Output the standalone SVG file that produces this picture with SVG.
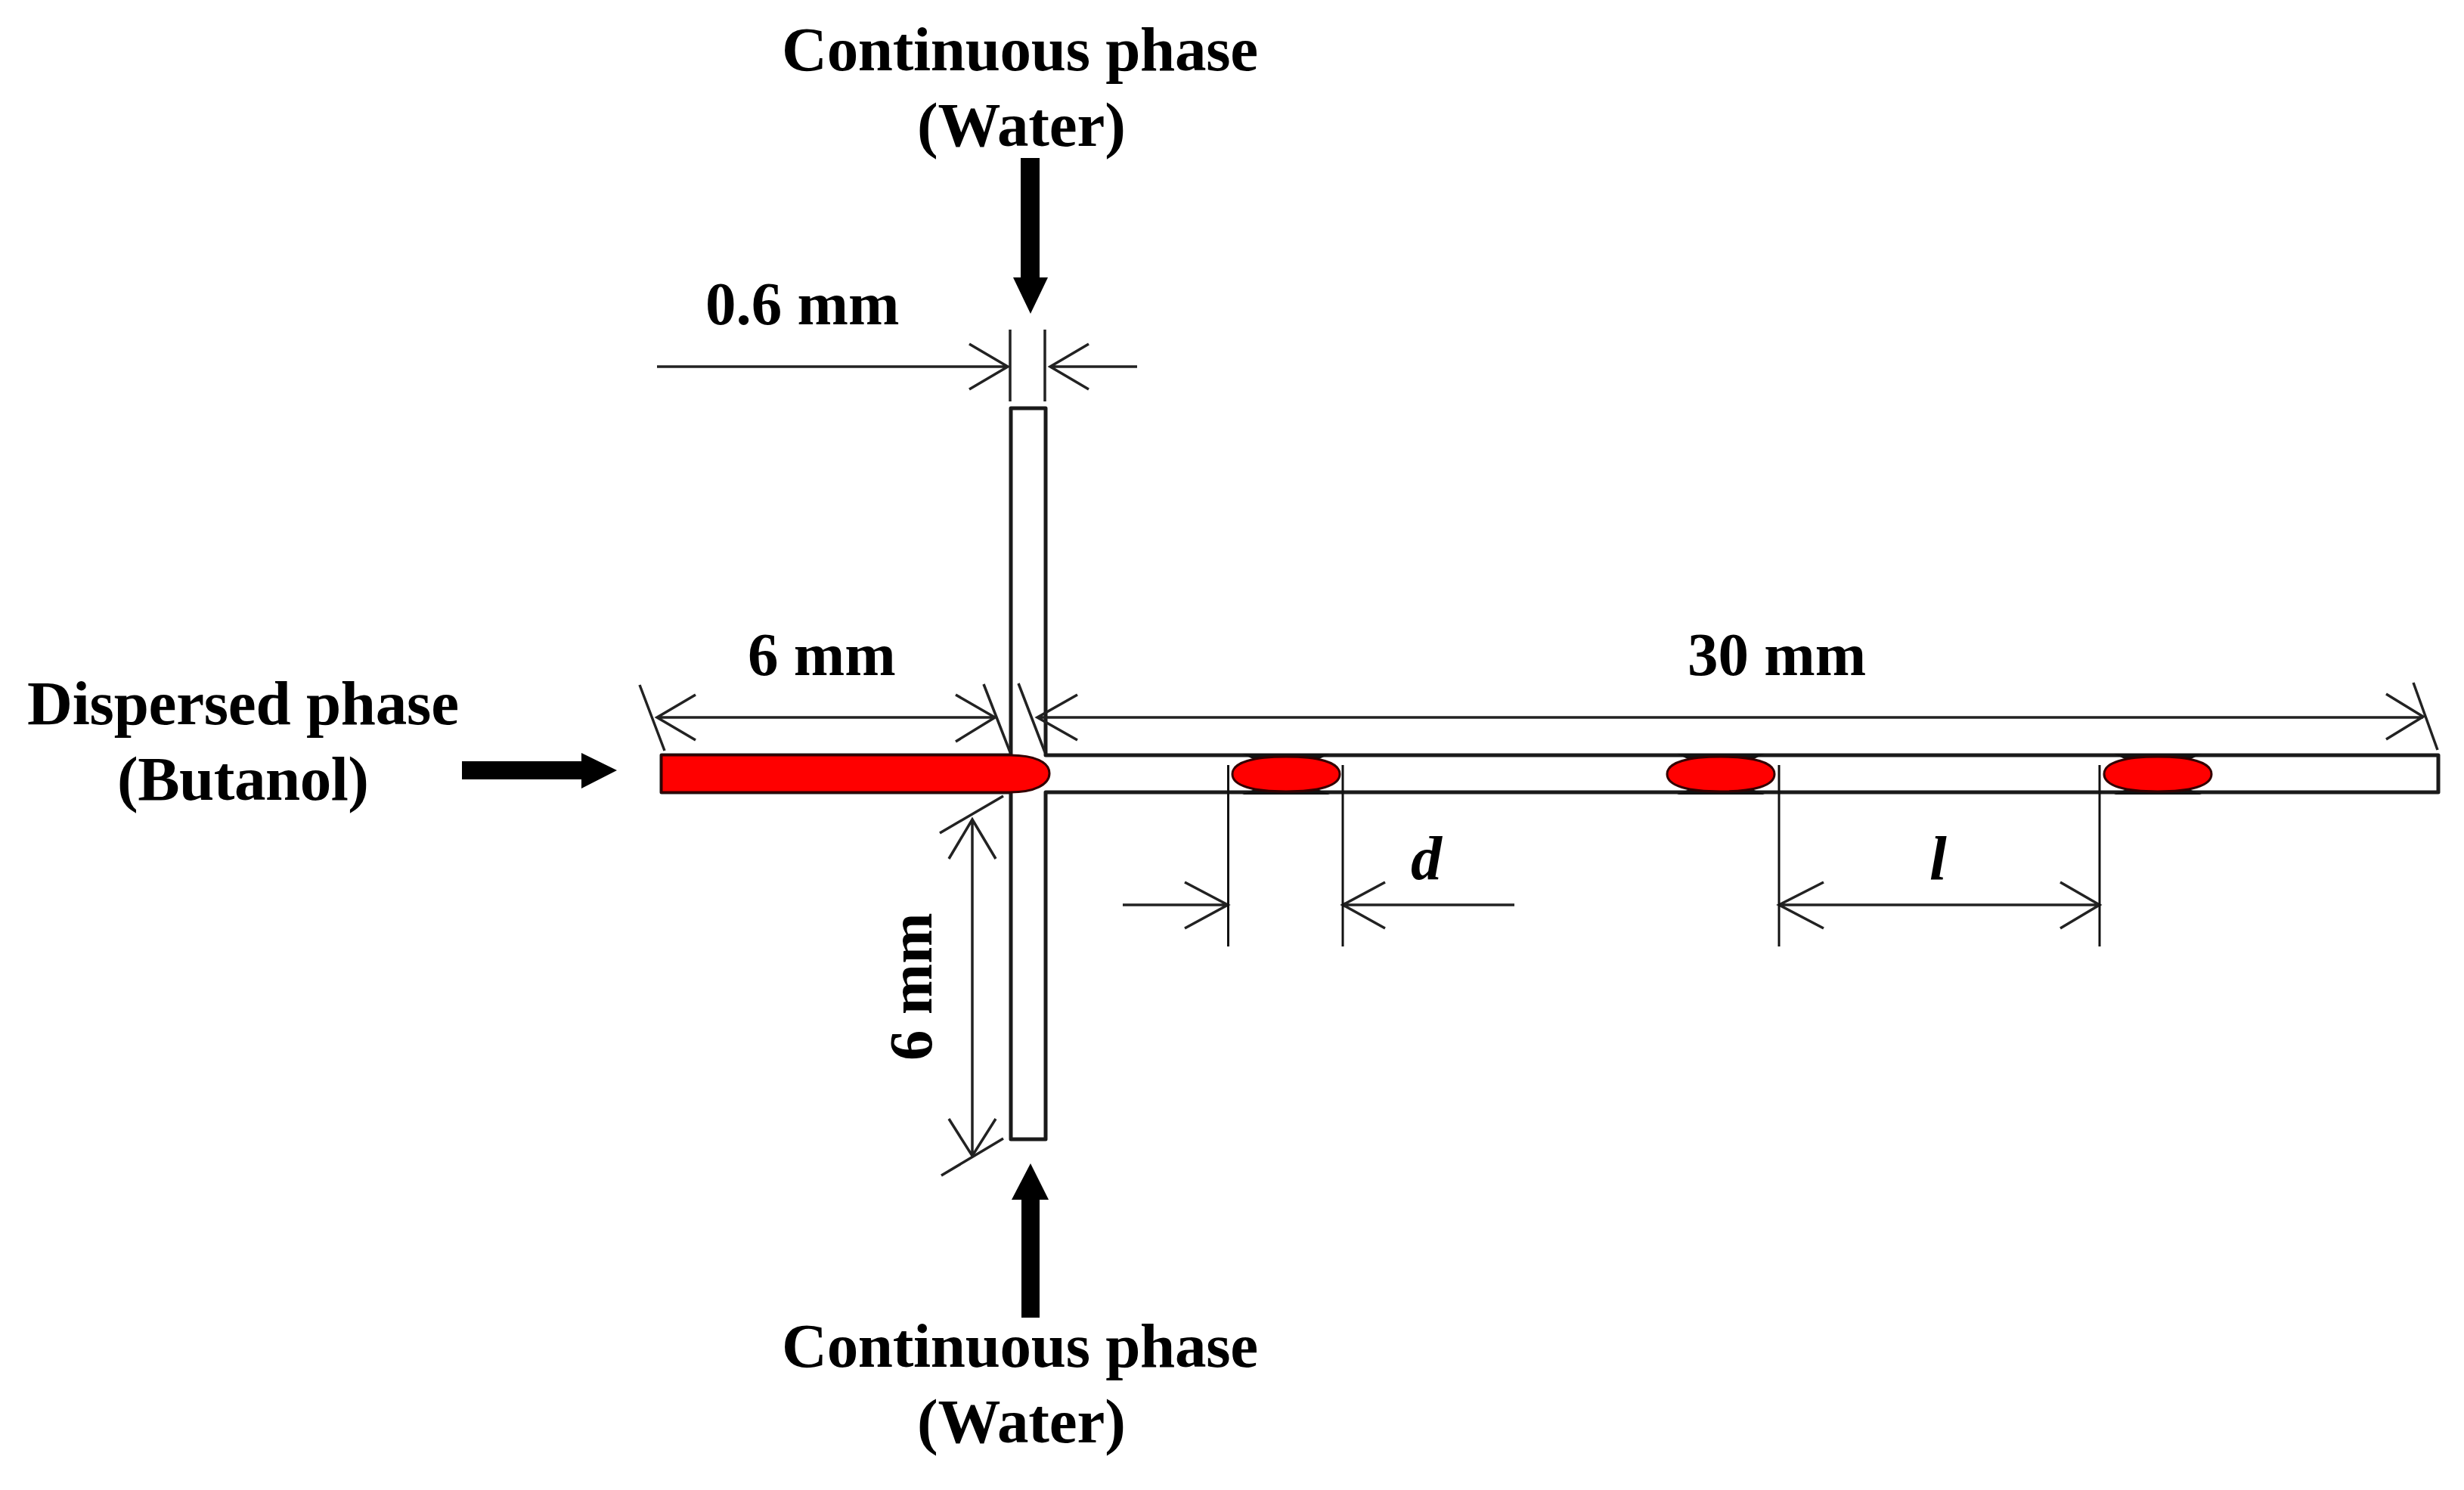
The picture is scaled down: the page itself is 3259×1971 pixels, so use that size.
<svg xmlns="http://www.w3.org/2000/svg" width="3259" height="1971" viewBox="0 0 3259 1971">
<style>
text{font-family:"Liberation Serif","Times New Roman",serif;font-weight:bold;font-size:83px;fill:#000}
.m{font-size:81px}
.i{font-style:italic;font-size:82px}
.t{fill:#fff;stroke:#1a1a1a;stroke-width:5;stroke-linejoin:round}
.d{fill:none;stroke:#222;stroke-width:3.500}
.e{fill:none;stroke:#111;stroke-width:3}
.a{fill:#000}
.r{fill:#f00;stroke:#300;stroke-width:3}
.k{fill:#111}
</style>
<defs>
<g id="drop">
<path class="k" d="M-58 -27H58L44 -20H-44ZM-58 27H58L44 21H-44Z"/>
<path class="r" d="M-71 0C-71 -16 -42 -23 0 -23C42 -23 71 -16 71 0C71 16 42 23 0 23C-42 23 -71 16 -71 0Z"/>
</g>
</defs>
<rect width="3259" height="1971" fill="#fff"/>
<g id="channel">
<path class="t" d="M1337 999V540H1383V999H3225V1048H1383V1507H1337V1048H875V999Z"/>
</g>
<g id="butanol-stream">
<path class="r" d="M875 999H1336C1368 999 1388 1008 1388 1023C1388 1038 1368 1048 1336 1048H875Z"/>
</g>
<g id="droplet-1"><use href="#drop" x="1701" y="1024"/></g>
<g id="droplet-2"><use href="#drop" x="2276" y="1024"/></g>
<g id="droplet-3"><use href="#drop" x="2854" y="1024"/></g>
<g id="connectors">
<path class="a" d="M1350 209H1375V367H1386L1363 415L1340 367H1350Z"/>
<path class="a" d="M1351 1743H1375V1587H1387L1363 1539L1338 1587H1351Z"/>
<path class="a" d="M611 1007H769V996L816 1019L769 1043V1031H611Z"/>
<g class="d">
<path d="M1336 436V531M1382 436V531"/>
<path d="M869 485H1333M1282 455L1333 485L1282 515"/>
<path d="M1504 485H1389M1440 455L1389 485L1440 515"/>
<path d="M846 906L879 993M1301 905L1336 995M1347 904L1382 995"/>
<path d="M869 949H1316M920 919L869 949L920 979M1264 919L1316 949L1264 981"/>
<path d="M1372 949H3205M1425 919L1372 949L1425 979M3156 918L3205 948L3156 978"/>
<path d="M3192 903L3224 992"/>
<path d="M1243 1102L1327 1053M1245 1555L1327 1506"/>
<path d="M1286 1084V1529M1255 1136L1286 1084L1317 1136M1255 1480L1286 1529L1317 1480"/>
<path d="M1485 1197H1624M1567 1167L1624 1197L1567 1228"/>
<path d="M2003 1197H1776M1832 1167L1776 1197L1832 1228"/>
<path d="M2353 1197H2777M2412 1167L2353 1197L2412 1228M2725 1167L2777 1197L2725 1228"/>
</g>
<path class="e" d="M1624.500 1012V1252M1776 1012V1252M2353 1012V1252M2777 1012V1252"/>
</g>
<g id="labels">
<text x="1034" y="93" textLength="630" lengthAdjust="spacing">Continuous phase</text>
<text x="1213" y="193" textLength="276" lengthAdjust="spacing">(Water)</text>
<text class="m" x="933" y="429">0.6 mm</text>
<text class="m" x="989" y="893">6 mm</text>
<text class="m" x="2232" y="893">30 mm</text>
<text x="36" y="958" textLength="571" lengthAdjust="spacing">Dispersed phase</text>
<text x="155" y="1058" textLength="333" lengthAdjust="spacing">(Butanol)</text>
<text class="i" x="1866" y="1163">d</text>
<text class="i" x="2552" y="1163">l</text>
<text class="m" transform="translate(1232 1403) rotate(-90)">6 mm</text>
<text x="1034" y="1808" textLength="630" lengthAdjust="spacing">Continuous phase</text>
<text x="1213" y="1908" textLength="276" lengthAdjust="spacing">(Water)</text>
</g>
</svg>
